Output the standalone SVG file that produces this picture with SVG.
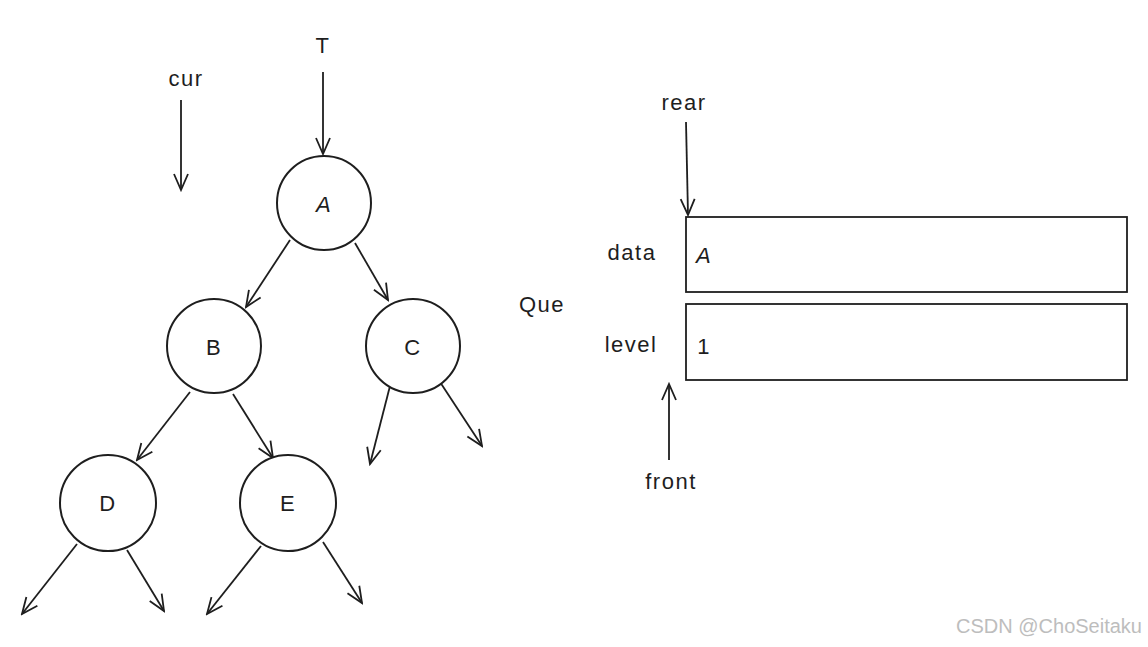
<svg xmlns="http://www.w3.org/2000/svg" width="1148" height="647" viewBox="0 0 1148 647">
<style>
.n{fill:#fff;stroke:#1e1e1e;stroke-width:2}
.t{font-family:"Liberation Sans","DejaVu Sans",sans-serif;font-size:22px;letter-spacing:1.5px;fill:#1e1e1e;text-anchor:middle;dominant-baseline:central}
.c line{stroke:#1e1e1e;stroke-width:1.8;marker-end:url(#ah)}
.box{fill:#fff;stroke:#1e1e1e;stroke-width:1.8}
</style>
<defs>
<marker id="ah" viewBox="0 0 20 20" refX="18" refY="10" markerWidth="20" markerHeight="20" markerUnits="userSpaceOnUse" orient="auto">
<path d="M2,3 L18,10 L2,17" fill="none" stroke="#1e1e1e" stroke-width="1.8"/>
</marker>
</defs>
<rect width="1148" height="647" fill="#fff"/>
<g class="c" id="connectors">
<line x1="323" y1="72" x2="323" y2="154"/>
<line x1="181" y1="100" x2="181" y2="190"/>
<line x1="290" y1="240" x2="246" y2="307"/>
<line x1="355" y1="243" x2="388" y2="300"/>
<line x1="190" y1="392" x2="137" y2="460"/>
<line x1="233" y1="394" x2="273" y2="458"/>
<line x1="390" y1="386" x2="370" y2="464"/>
<line x1="440" y1="382" x2="482" y2="446"/>
<line x1="77" y1="544" x2="22" y2="614"/>
<line x1="127" y1="550" x2="164" y2="611"/>
<line x1="261" y1="546" x2="207" y2="614"/>
<line x1="323" y1="542" x2="362" y2="603"/>
<line x1="686" y1="122" x2="688" y2="215"/>
<line x1="669" y1="460" x2="669" y2="384"/>
</g>
<g id="node-A"><circle class="n" cx="324" cy="203" r="47"/><text class="t" x="324" y="204" font-style="italic">A</text></g>
<g id="node-B"><circle class="n" cx="214" cy="346" r="47"/><text class="t" x="214" y="347">B</text></g>
<g id="node-C"><circle class="n" cx="413" cy="346" r="47"/><text class="t" x="413" y="347">C</text></g>
<g id="node-D"><circle class="n" cx="108" cy="503" r="48"/><text class="t" x="108" y="503">D</text></g>
<g id="node-E"><circle class="n" cx="288" cy="503" r="48"/><text class="t" x="288" y="503">E</text></g>
<g id="label-T"><text class="t" x="323" y="45">T</text></g>
<g id="label-cur"><text class="t" x="186" y="78">cur</text></g>
<g id="label-rear"><text class="t" x="684" y="102">rear</text></g>
<g id="label-front"><text class="t" x="671" y="481">front</text></g>
<g id="label-Que"><text class="t" x="542" y="304">Que</text></g>
<g id="queue-data"><rect class="box" x="686" y="217" width="441" height="75"/><text class="t" x="632" y="252">data</text><text class="t" x="704" y="255" font-style="italic">A</text></g>
<g id="queue-level"><rect class="box" x="686" y="304" width="441" height="76"/><text class="t" x="631" y="344">level</text><text class="t" x="704" y="346">1</text></g>
<text x="1142" y="626" font-family="Liberation Sans,Arial,sans-serif" font-size="20" fill="#bdbdbd" text-anchor="end" dominant-baseline="central">CSDN @ChoSeitaku</text>
</svg>
